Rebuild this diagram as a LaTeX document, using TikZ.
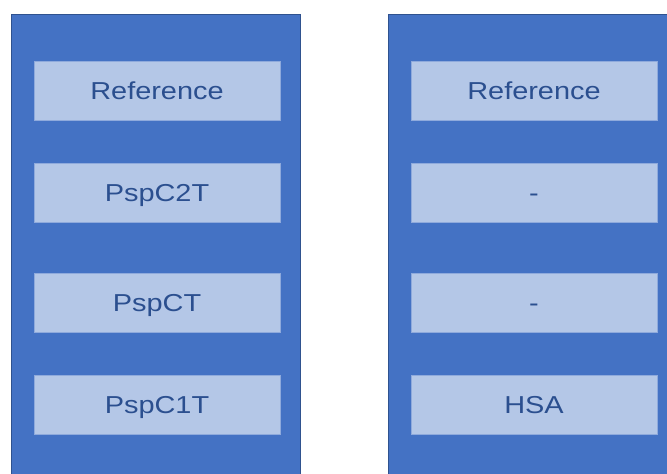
\documentclass[tikz,border=0pt]{standalone}
\usepackage{fontspec}
\newfontfamily\boxfont[FakeStretch=1.18]{Liberation Sans}
\definecolor{colblue}{HTML}{4472C4}
\definecolor{coledge}{HTML}{2F528F}
\definecolor{cellfill}{HTML}{B4C7E7}
\definecolor{celledge}{HTML}{8FAADC}
\definecolor{celltext}{HTML}{2B4F8F}
\usetikzlibrary{positioning}

\begin{document}
\begin{tikzpicture}[x=1pt, y=-1pt,
  cell/.style={draw=celledge, fill=cellfill, line width=1pt, minimum width=246pt, minimum height=59pt,
    inner sep=0pt, text height=17.5pt, text depth=0pt, text=celltext,
    font=\boxfont\fontsize{24.5}{28}\selectfont}]
\useasboundingbox (0,0) rectangle (667,474);
\clip (0,0) rectangle (667,474);

% Columns
\draw[fill=colblue, draw=coledge, line width=1pt] (11,14) rectangle (300,490);
\draw[fill=colblue, draw=coledge, line width=1pt] (388,14) rectangle (677,490);

% Left column
\node[cell] (L1) at (157,90.5) {Reference};
\node[cell] (L2) at (157,192.5) {PspC2T};
\node[cell] (L3) at (157,302.5) {PspCT};
\node[cell] (L4) at (157,405) {PspC1T};

% Right column
\node[cell] (R1) at (534,90.5) {Reference};
\node[cell] (R2) at (534,192.5) {-};
\node[cell] (R3) at (534,302.5) {-};
\node[cell] (R4) at (534,405) {HSA};

\end{tikzpicture}
\end{document}
